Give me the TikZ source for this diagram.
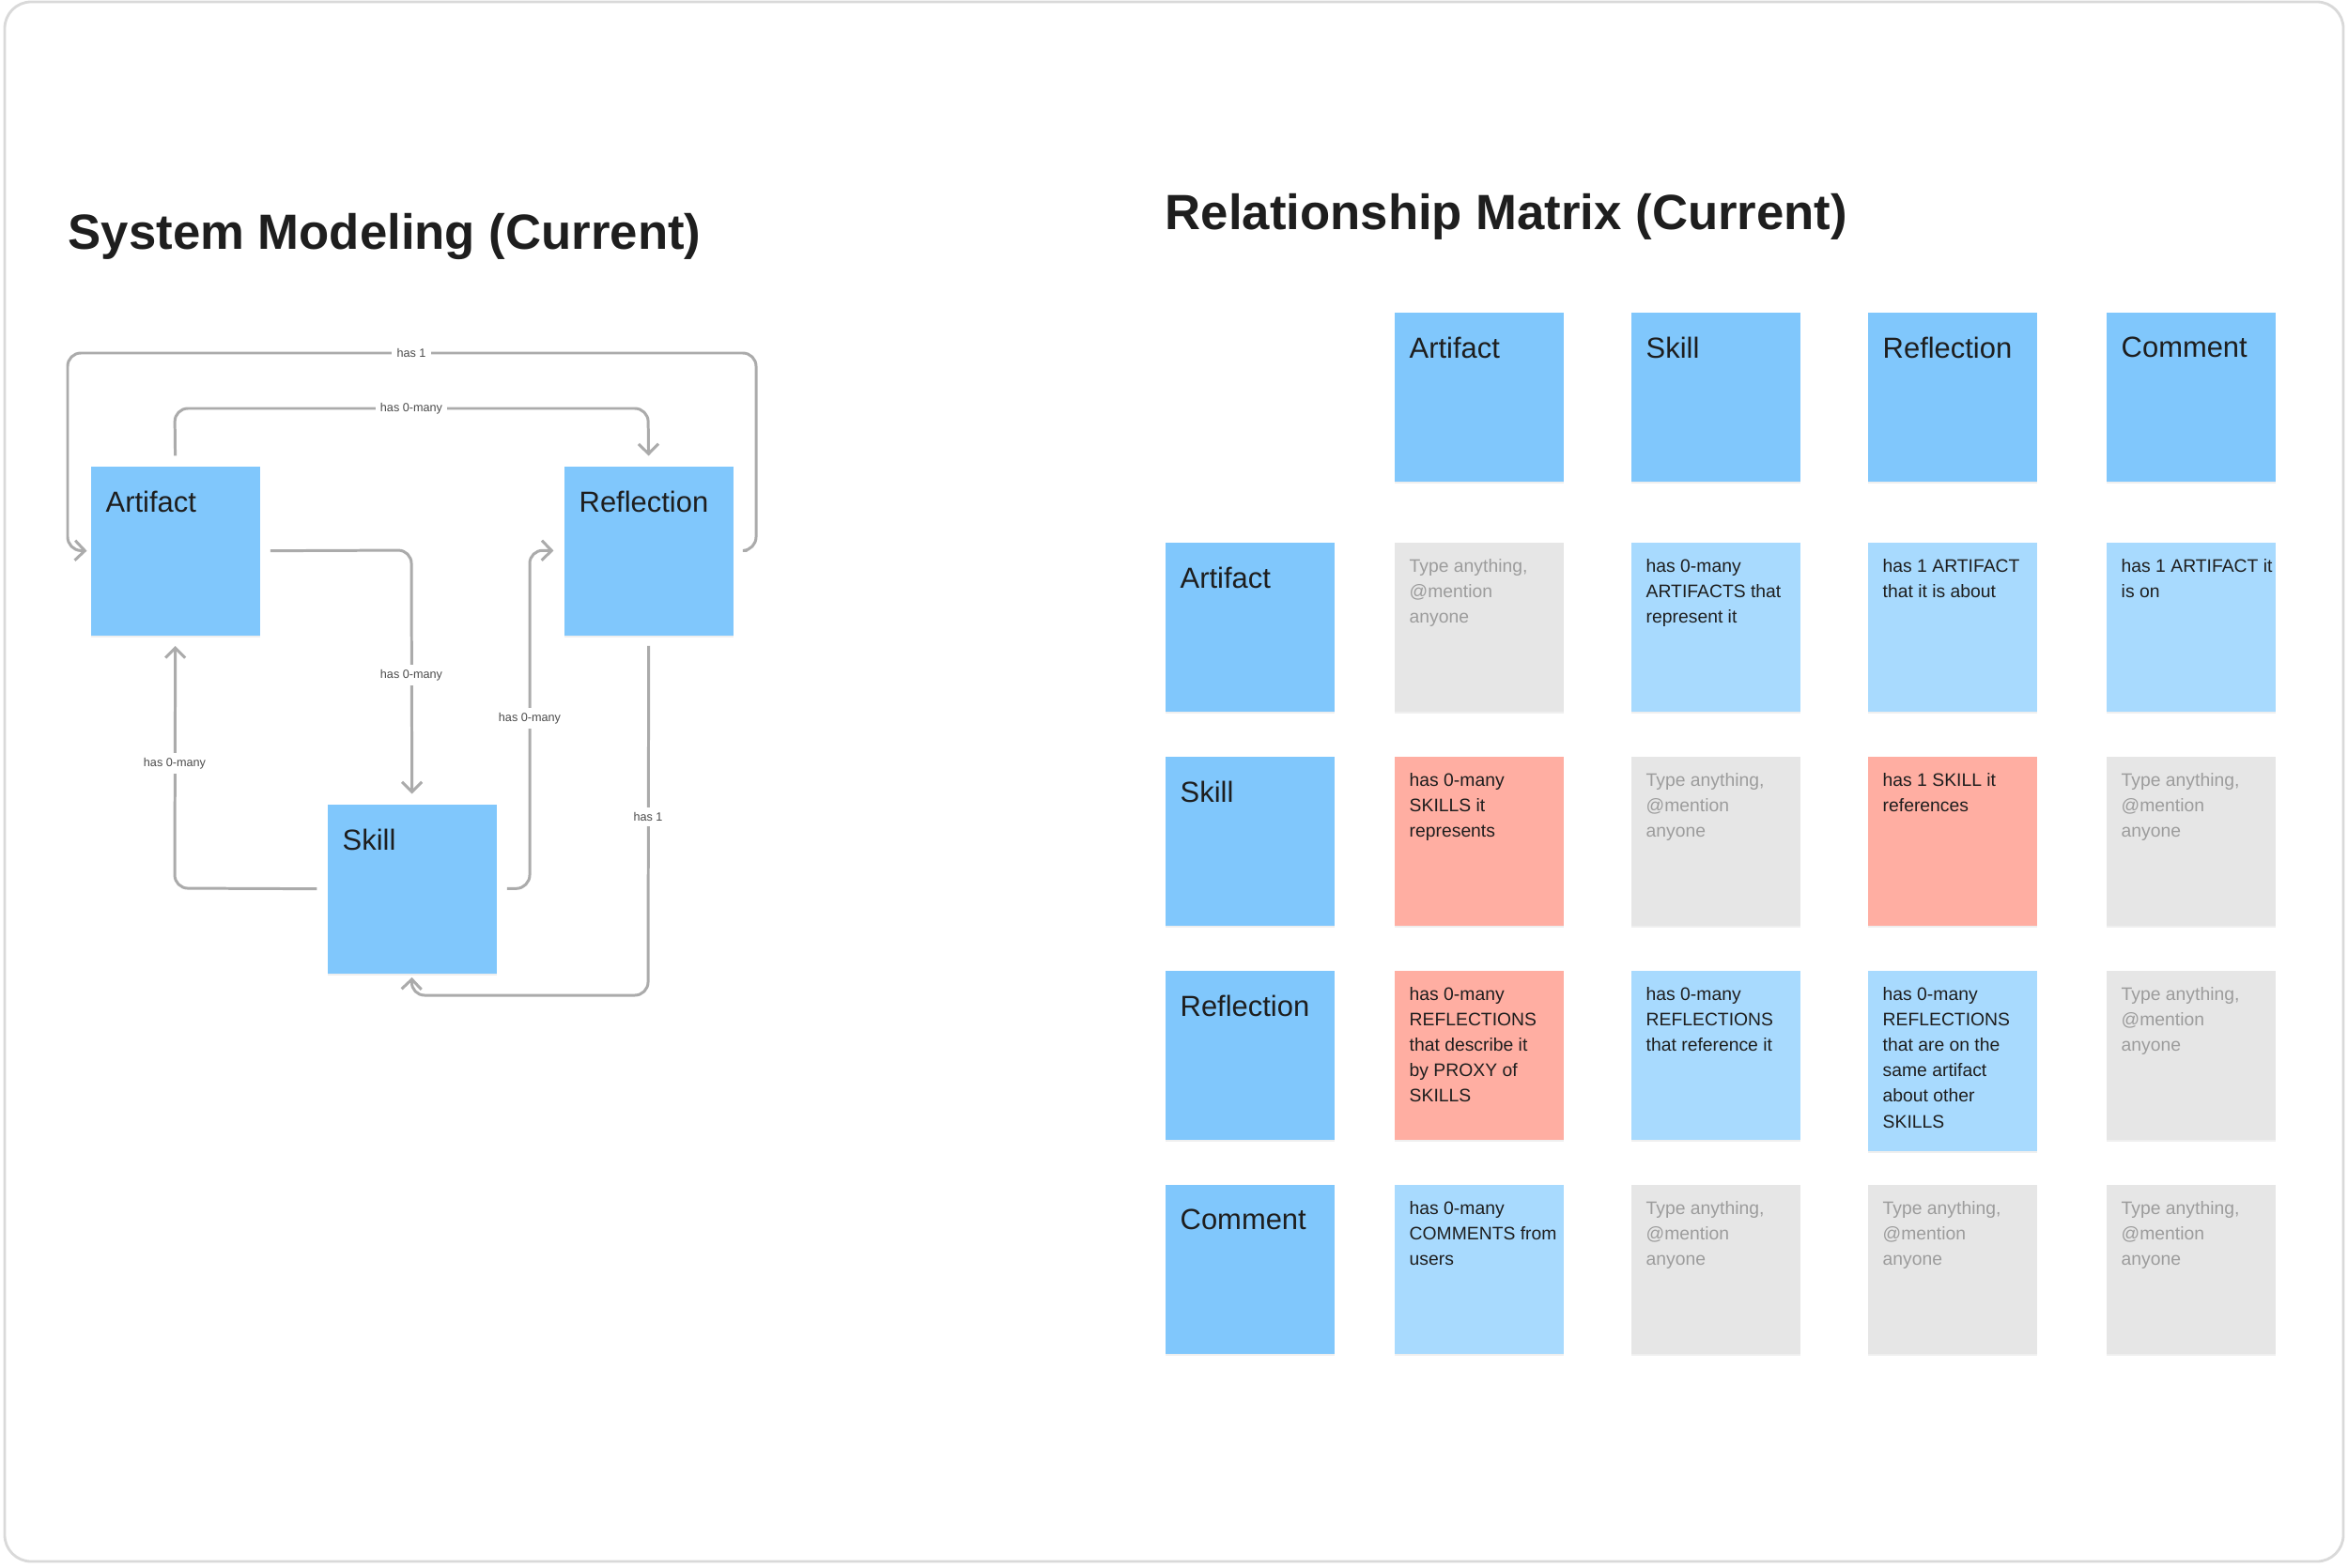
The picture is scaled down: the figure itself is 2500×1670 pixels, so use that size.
\documentclass[tikz,border=0pt]{standalone}
\usepackage{fontspec}
\setmainfont{Liberation Sans}
\usetikzlibrary{arrows.meta,shadows}
\definecolor{hblue}{HTML}{80C7FC}
\definecolor{lblue}{HTML}{A8DAFE}
\definecolor{lred}{HTML}{FFAEA2}
\definecolor{lgrey}{HTML}{E6E6E6}
\definecolor{ink}{HTML}{1E1E1E}
\definecolor{ghost}{HTML}{9C9C9C}
\definecolor{edgec}{HTML}{ABABAB}
\tikzset{
  card/.style={rectangle, minimum width=18mm, minimum height=18mm, anchor=north west, inner sep=0pt,
    drop shadow={opacity=0.12, shadow xshift=0pt, shadow yshift=-0.6pt}},
  big/.style={anchor=north west, inner sep=0pt, text=ink, font=\fontsize{8.8}{10}\selectfont},
  small/.style={anchor=north west, inner sep=0pt, align=left, font=\fontsize{5.5}{7.7}\selectfont},
  title/.style={anchor=west, inner sep=0pt, text=ink, font=\fontsize{15}{18}\selectfont\bfseries},
  edge/.style={draw=edgec, line width=0.85pt, rounded corners=4pt},
  arr/.style={-{Straight Barb[length=3pt,width=6pt]}},
  elab/.style={fill=white, inner sep=1.5pt, text=ink!80, font=\fontsize{3.6}{4}\selectfont},
}
\newcommand\mcell[6]{%
  \node[card, fill=#4] (#1) at (#2,#3) {};
  \node[small, text=#5] (#1t) at (#2+16,#3+18) {#6};}
\newcommand\hcell[4]{%
  \node[card, fill=hblue] (#1) at (#2,#3) {};
  \node[big] (#1t) at (#2+16,#3+26) {#4};}
\begin{document}
\begin{tikzpicture}[x=0.1mm,y=-0.1mm]
\useasboundingbox (0,0) rectangle (2500,1670);
\draw[gray!30, line width=0.8pt, fill=white, rounded corners=8pt] (5,2) rectangle (2495,1663);
\node[title] (t1) at (72,252) {System Modeling (Current)};
\node[title] (t2) at (1240,231) {Relationship Matrix (Current)};
% left diagram
\hcell{A}{96}{496}{Artifact}
\hcell{R}{600}{496}{Reflection}
\hcell{S}{348}{856}{Skill}
\draw[edge,arr,shorten <=4pt,shorten >=1pt] (R.east) -- (805,586) -- (805,376) -- (72,376) -- (72,586) -- (A.west);
\node[elab] (l1) at (438,376) {has 1};
\draw[edge,arr,shorten <=3pt,shorten >=3pt] (A.north) -- (186,435) -- (690,435) -- (R.north);
\node[elab] (l2) at (438,435) {has 0-many};
\draw[edge,arr,shorten <=3pt,shorten >=3pt] (A.east) -- (438,586) -- (S.north);
\node[elab] (l3) at (438,719) {has 0-many};
\draw[edge,arr,shorten <=3pt,shorten >=3pt] (S.west) -- (186,946) -- (A.south);
\node[elab] (l4) at (186,813) {has 0-many};
\draw[edge,arr,shorten <=3pt,shorten >=3pt] (S.east) -- (564,946) -- (564,586) -- (R.west);
\node[elab] (l5) at (564,765) {has 0-many};
\draw[edge,arr,shorten <=3pt,shorten >=1pt] (R.south) -- (690,1060) -- (438,1060) -- (S.south);
\node[elab] (l6) at (690,870) {has 1};
% matrix headers
\hcell{cA}{1484}{332}{Artifact}
\hcell{cS}{1736}{332}{Skill}
\hcell{cR}{1988}{332}{Reflection}
\hcell{cC}{2242}{332}{Comment}
\hcell{rA}{1240}{577}{Artifact}
\hcell{rS}{1240}{805}{Skill}
\hcell{rR}{1240}{1033}{Reflection}
\hcell{rC}{1240}{1261}{Comment}
% row Artifact
\mcell{aa}{1484}{577}{lgrey}{ghost}{Type anything,\\@mention\\anyone}
\mcell{as}{1736}{577}{lblue}{ink}{has 0-many\\ARTIFACTS that\\represent it}
\mcell{ar}{1988}{577}{lblue}{ink}{has 1 ARTIFACT\\that it is about}
\mcell{ac}{2242}{577}{lblue}{ink}{has 1 ARTIFACT it\\is on}
% row Skill
\mcell{sa}{1484}{805}{lred}{ink}{has 0-many\\SKILLS it\\represents}
\mcell{ss}{1736}{805}{lgrey}{ghost}{Type anything,\\@mention\\anyone}
\mcell{sr}{1988}{805}{lred}{ink}{has 1 SKILL it\\references}
\mcell{sc}{2242}{805}{lgrey}{ghost}{Type anything,\\@mention\\anyone}
% row Reflection
\mcell{ra}{1484}{1033}{lred}{ink}{has 0-many\\REFLECTIONS\\that describe it\\by PROXY of\\SKILLS}
\mcell{rs}{1736}{1033}{lblue}{ink}{has 0-many\\REFLECTIONS\\that reference it}
\node[card, fill=lblue, minimum height=19.2mm] (rr) at (1988,1033) {};
\node[small, text=ink] (rrt) at (2004,1051) {has 0-many\\REFLECTIONS\\that are on the\\same artifact\\about other\\SKILLS};
\mcell{rc}{2242}{1033}{lgrey}{ghost}{Type anything,\\@mention\\anyone}
% row Comment
\mcell{ca}{1484}{1261}{lblue}{ink}{has 0-many\\COMMENTS from\\users}
\mcell{cs}{1736}{1261}{lgrey}{ghost}{Type anything,\\@mention\\anyone}
\mcell{cr}{1988}{1261}{lgrey}{ghost}{Type anything,\\@mention\\anyone}
\mcell{cc}{2242}{1261}{lgrey}{ghost}{Type anything,\\@mention\\anyone}
\end{tikzpicture}
\end{document}
